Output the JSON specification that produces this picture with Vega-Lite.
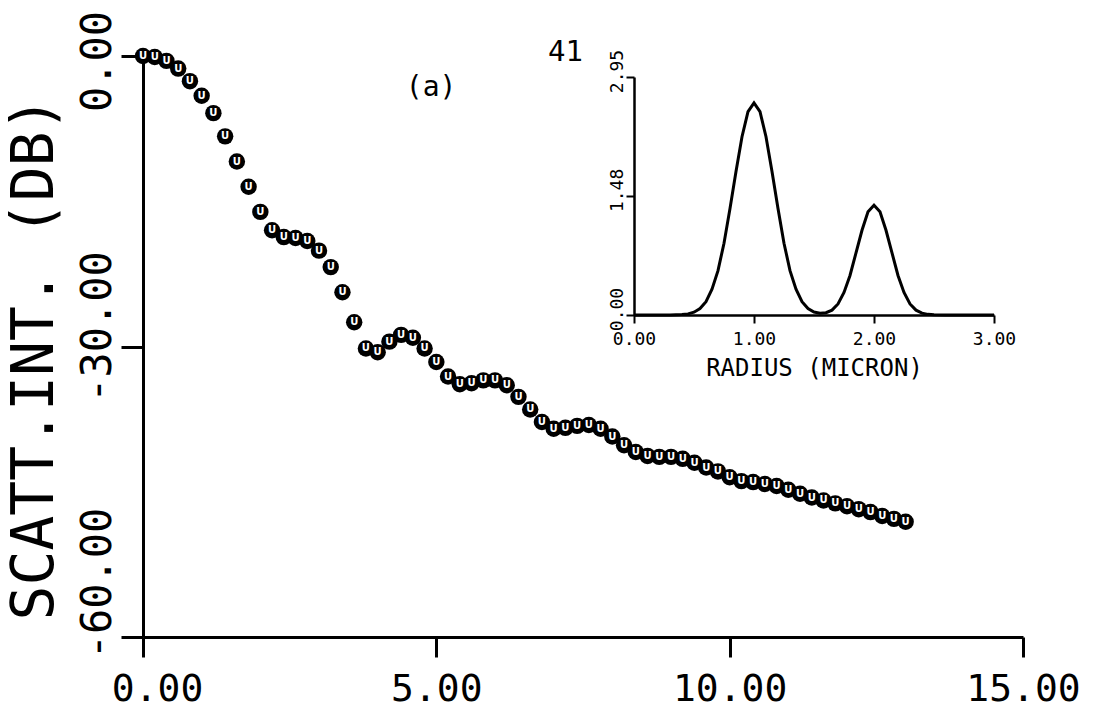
{
  "$schema": "https://vega.github.io/schema/vega-lite/v6.json",
  "width": 880,
  "height": 581,
  "autosize": {"type": "none"},
  "padding": {"left": 143, "top": 56, "right": 81, "bottom": 81},
  "background": "white",
  "config": {
    "view": {"stroke": null},
    "axis": {"grid": false, "domainColor": "black", "tickColor": "black", "labelColor": "black", "titleColor": "black", "labelFont": "DejaVu Sans Mono", "titleFont": "DejaVu Sans Mono", "titleFontWeight": "normal", "labelFlush": false, "labelOverlap": false}
  },
  "datasets": {
    "scatt": [
      {"x": 0.0, "y": 0.0}, {"x": 0.2, "y": -0.1}, {"x": 0.4, "y": -0.5}, {"x": 0.6, "y": -1.3}, {"x": 0.8, "y": -2.6},
      {"x": 1.0, "y": -4.1}, {"x": 1.2, "y": -5.9}, {"x": 1.4, "y": -8.3}, {"x": 1.6, "y": -10.9}, {"x": 1.8, "y": -13.5},
      {"x": 2.0, "y": -16.1}, {"x": 2.2, "y": -18.0}, {"x": 2.4, "y": -18.7}, {"x": 2.6, "y": -18.8}, {"x": 2.8, "y": -19.1},
      {"x": 3.0, "y": -20.1}, {"x": 3.2, "y": -21.8}, {"x": 3.4, "y": -24.4}, {"x": 3.6, "y": -27.5}, {"x": 3.8, "y": -30.2},
      {"x": 4.0, "y": -30.6}, {"x": 4.2, "y": -29.5}, {"x": 4.4, "y": -28.8}, {"x": 4.6, "y": -29.1}, {"x": 4.8, "y": -30.2},
      {"x": 5.0, "y": -31.6}, {"x": 5.2, "y": -33.1}, {"x": 5.4, "y": -33.9}, {"x": 5.6, "y": -33.8}, {"x": 5.8, "y": -33.5},
      {"x": 6.0, "y": -33.5}, {"x": 6.2, "y": -34.0}, {"x": 6.4, "y": -35.2}, {"x": 6.6, "y": -36.5}, {"x": 6.8, "y": -37.8},
      {"x": 7.0, "y": -38.5}, {"x": 7.2, "y": -38.4}, {"x": 7.4, "y": -38.2}, {"x": 7.6, "y": -38.1}, {"x": 7.8, "y": -38.5},
      {"x": 8.0, "y": -39.3}, {"x": 8.2, "y": -40.2}, {"x": 8.4, "y": -40.9}, {"x": 8.6, "y": -41.3}, {"x": 8.8, "y": -41.4},
      {"x": 9.0, "y": -41.4}, {"x": 9.2, "y": -41.6}, {"x": 9.4, "y": -42.0}, {"x": 9.6, "y": -42.5}, {"x": 9.8, "y": -42.9},
      {"x": 10.0, "y": -43.5}, {"x": 10.2, "y": -43.9}, {"x": 10.4, "y": -44.0}, {"x": 10.6, "y": -44.2}, {"x": 10.8, "y": -44.4},
      {"x": 11.0, "y": -44.8}, {"x": 11.2, "y": -45.2}, {"x": 11.4, "y": -45.6}, {"x": 11.6, "y": -45.9}, {"x": 11.8, "y": -46.2},
      {"x": 12.0, "y": -46.5}, {"x": 12.2, "y": -46.8}, {"x": 12.4, "y": -47.1}, {"x": 12.6, "y": -47.5}, {"x": 12.8, "y": -47.8},
      {"x": 13.0, "y": -48.1}
    ],
    "inset": [
      {"r": 0.0, "v": 0}, {"r": 0.3, "v": 0}, {"r": 0.4, "v": 0.005}, {"r": 0.45, "v": 0.014}, {"r": 0.5, "v": 0.035},
      {"r": 0.55, "v": 0.08}, {"r": 0.6, "v": 0.165}, {"r": 0.65, "v": 0.32}, {"r": 0.7, "v": 0.55}, {"r": 0.75, "v": 0.89},
      {"r": 0.8, "v": 1.32}, {"r": 0.85, "v": 1.78}, {"r": 0.9, "v": 2.21}, {"r": 0.95, "v": 2.52}, {"r": 1.0, "v": 2.63},
      {"r": 1.05, "v": 2.52}, {"r": 1.1, "v": 2.21}, {"r": 1.15, "v": 1.78}, {"r": 1.2, "v": 1.32}, {"r": 1.25, "v": 0.89},
      {"r": 1.3, "v": 0.55}, {"r": 1.35, "v": 0.32}, {"r": 1.4, "v": 0.165}, {"r": 1.45, "v": 0.08}, {"r": 1.5, "v": 0.037},
      {"r": 1.55, "v": 0.022}, {"r": 1.6, "v": 0.028}, {"r": 1.65, "v": 0.06}, {"r": 1.7, "v": 0.137}, {"r": 1.75, "v": 0.28},
      {"r": 1.8, "v": 0.49}, {"r": 1.85, "v": 0.77}, {"r": 1.9, "v": 1.05}, {"r": 1.95, "v": 1.28}, {"r": 2.0, "v": 1.36},
      {"r": 2.05, "v": 1.28}, {"r": 2.1, "v": 1.05}, {"r": 2.15, "v": 0.77}, {"r": 2.2, "v": 0.49}, {"r": 2.25, "v": 0.28},
      {"r": 2.3, "v": 0.137}, {"r": 2.35, "v": 0.06}, {"r": 2.4, "v": 0.023}, {"r": 2.45, "v": 0.008}, {"r": 2.5, "v": 0.002},
      {"r": 2.6, "v": 0}, {"r": 3.0, "v": 0}
    ]
  },
  "layer": [
    {
      "layer": [
        {
          "data": {"name": "scatt"},
          "mark": {"type": "point", "shape": "circle", "filled": true, "color": "black", "size": 270, "opacity": 1},
          "encoding": {
            "x": {"field": "x", "type": "quantitative", "scale": {"domain": [0, 15], "nice": false, "zero": false},
              "axis": {"values": [0, 5, 10, 15], "format": ".2f", "labelFontSize": 38, "tickSize": 20, "tickWidth": 3, "domainWidth": 3, "labelPadding": 13,
                "labelOffset": {"condition": {"test": "datum.value == 0", "value": 14}, "value": 0}, "title": null}},
            "y": {"field": "y", "type": "quantitative", "scale": {"domain": [-60, 0], "nice": false, "zero": false},
              "axis": {"values": [-60, -30, 0], "labelExpr": "datum.value < 0 ? '-' + format(-datum.value, '.2f') : format(datum.value, '.2f')", "labelAngle": 270, "labelAlign": "center", "labelBaseline": "alphabetic", "labelFontSize": 42, "labelPadding": 11, "tickSize": 22, "tickWidth": 3, "domainWidth": 3,
                "labelOffset": {"condition": [{"test": "datum.value <= -60", "value": -54}, {"test": "datum.value <= -30", "value": -20}], "value": 5},
                "title": "SCATT.INT. (DB)", "titleFontSize": 58, "titleAngle": 270, "titleX": -108, "titleY": 302, "titleAlign": "center", "titleBaseline": "middle"}}
          }
        },
        {
          "data": {"name": "scatt"},
          "mark": {"type": "text", "text": "U", "color": "white", "fontSize": 10, "fontWeight": "bold", "font": "DejaVu Sans", "baseline": "middle", "align": "center"},
          "encoding": {
            "x": {"field": "x", "type": "quantitative"},
            "y": {"field": "y", "type": "quantitative"}
          }
        },
        {
          "data": {"values": [{"tx": 4.91, "ty": -3.3, "label": "(a)"}]},
          "mark": {"type": "text", "font": "DejaVu Sans Mono", "fontSize": 28, "color": "black", "baseline": "middle", "align": "center"},
          "encoding": {
            "x": {"field": "tx", "type": "quantitative"},
            "y": {"field": "ty", "type": "quantitative"},
            "text": {"field": "label"}
          }
        },
        {
          "data": {"values": [{"tx": 7.2, "ty": 0.4, "label": "41"}]},
          "mark": {"type": "text", "font": "DejaVu Sans Mono", "fontSize": 29, "color": "black", "baseline": "middle", "align": "center"},
          "encoding": {
            "x": {"field": "tx", "type": "quantitative"},
            "y": {"field": "ty", "type": "quantitative"},
            "text": {"field": "label"}
          }
        }
      ]
    },
    {
      "data": {"name": "inset"},
      "mark": {"type": "line", "color": "black", "strokeWidth": 3},
      "encoding": {
        "x": {"field": "r", "type": "quantitative", "scale": {"domain": [0, 3], "range": [491, 851], "nice": false},
          "axis": {"orient": "bottom", "offset": -322, "values": [0, 1, 2, 3], "format": ".2f", "labelFontSize": 18, "tickSize": 8, "tickWidth": 2, "domainWidth": 2.5, "labelPadding": 7,
            "title": "RADIUS (MICRON)", "titleFontSize": 24, "titleY": 41, "titleBaseline": "top"}},
        "y": {"field": "v", "type": "quantitative", "scale": {"domain": [0, 2.95], "range": [259, 21], "nice": false},
          "axis": {"orient": "left", "offset": -491, "values": [0, 1.476, 2.95], "format": ".2f", "labelAngle": 270, "labelAlign": "center", "labelBaseline": "alphabetic", "labelFontSize": 18, "labelOffset": -6, "tickSize": 8, "tickWidth": 2, "domainWidth": 2.5, "labelPadding": 4, "title": null}}
      }
    }
  ],
  "resolve": {"scale": {"x": "independent", "y": "independent"}}
}
